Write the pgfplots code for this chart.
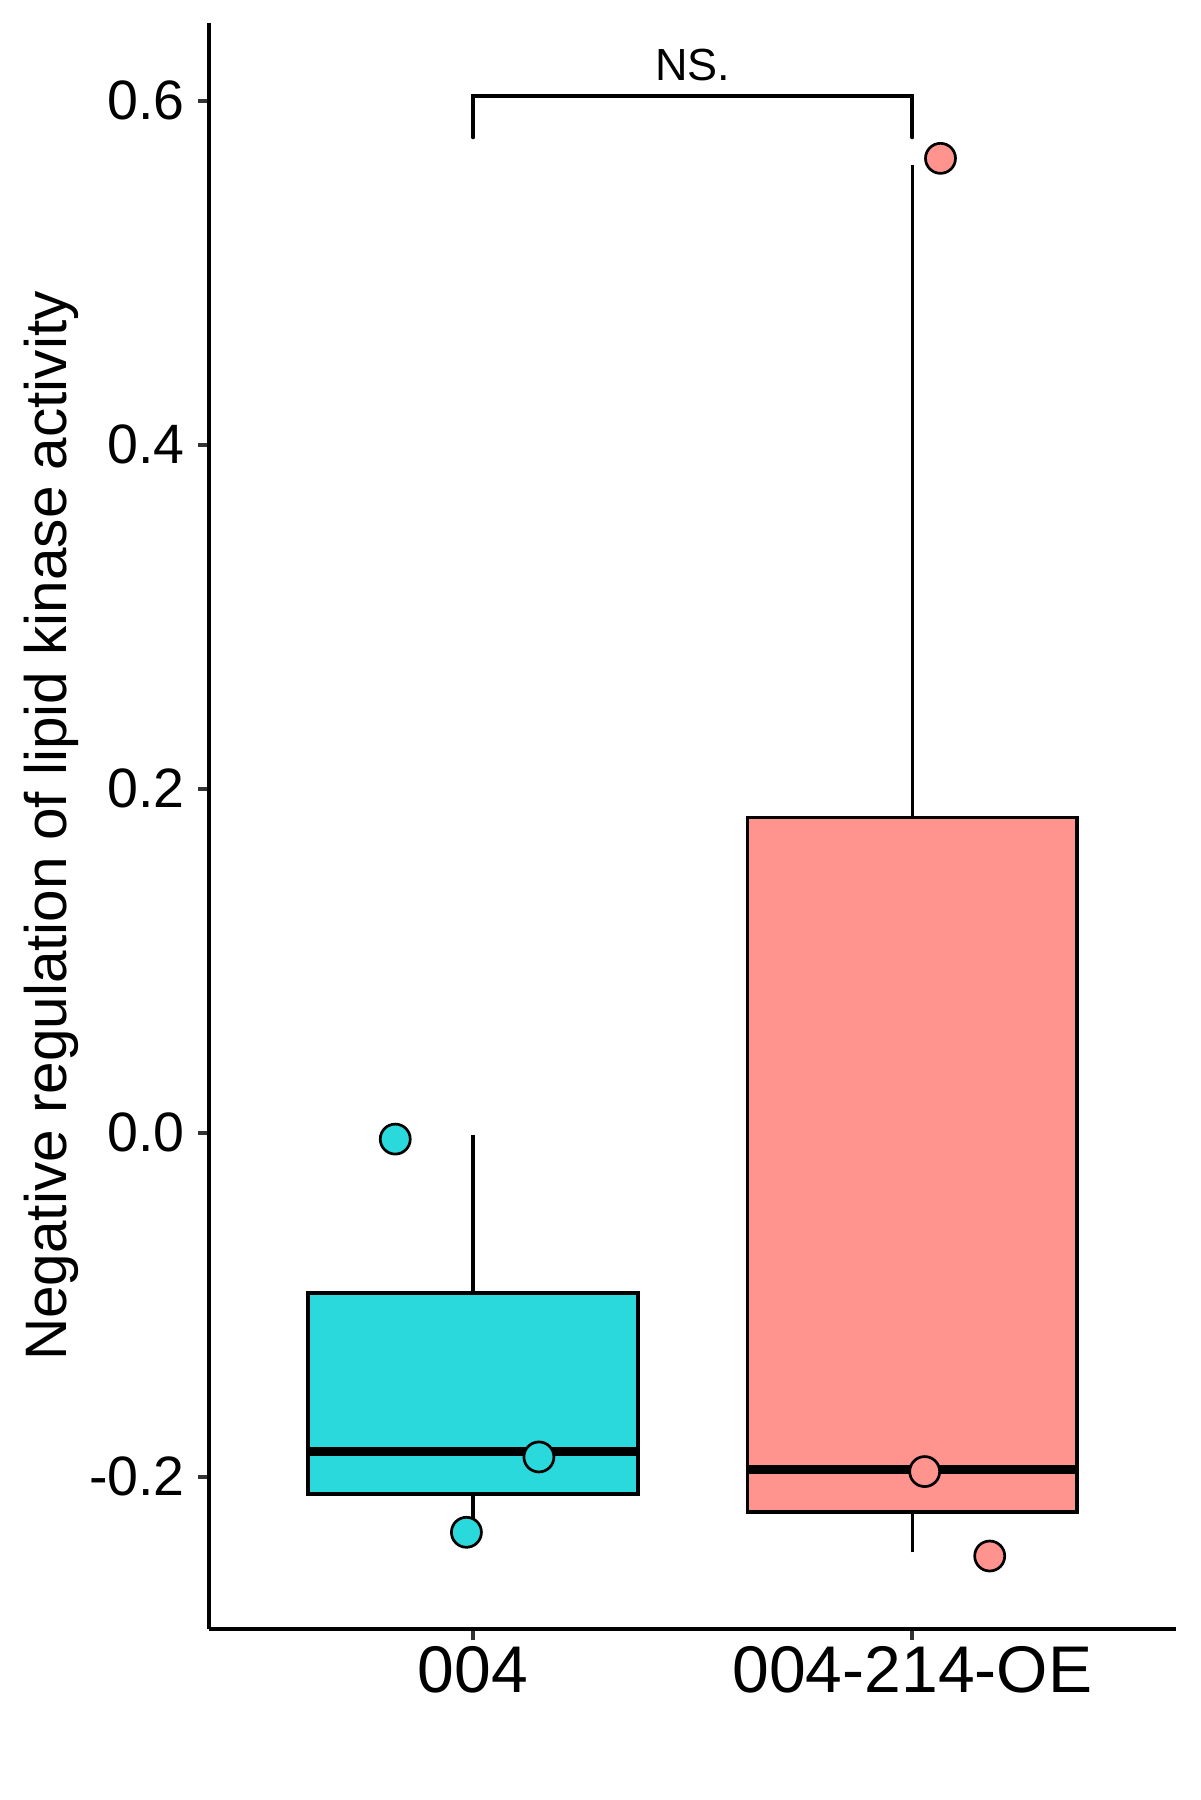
\documentclass[border=0pt]{standalone}
\usepackage{fontspec}
\setmainfont{Liberation Sans}
\usepackage{pgfplots}
\pgfplotsset{compat=1.18}
\definecolor{cy}{RGB}{41,217,220}
\definecolor{sa}{RGB}{255,148,143}
\definecolor{tk}{RGB}{51,51,51}
\begin{document}
\begin{tikzpicture}
\useasboundingbox (0,0) rectangle (400pt,600pt);
\begin{axis}[
 at={(69.8pt,56.9pt)}, anchor=south west, scale only axis,
 width=322.2pt, height=535.5pt,
 xmin=0.4, xmax=2.6, ymin=-0.2887, ymax=0.6453,
 axis x line*=bottom, axis y line*=left,
 axis line style={line width=1.33pt, -},
 xtick={1,2}, xticklabels={004,004-214-OE},
 ytick={-0.2,0,0.2,0.4,0.6}, yticklabels={-0.2,0.0,0.2,0.4,0.6},
 tick align=outside, major tick length=3.7pt,
 tick style={tk, line width=1.3pt},
 xticklabel style={font=\fontsize{22}{26}\selectfont, inner sep=0pt, anchor=north, yshift=-1.7pt},
 yticklabel style={font=\fontsize{18.5}{22}\selectfont, inner sep=0pt, anchor=east, xshift=-4.3pt},
 ylabel={Negative regulation of lipid kinase activity},
 ylabel style={font=\fontsize{19.5}{23}\selectfont, at={(axis description cs:-0.1474,0.5)}, anchor=base},
 clip=false,
]
% box 004
\addplot[black, line width=1.15pt] coordinates {(1,-0.2339) (1,-0.2102)};
\addplot[black, line width=1.15pt] coordinates {(1,-0.093) (1,-0.0013)};
\addplot[fill=cy, draw=black, line width=1.25pt] coordinates {(0.625,-0.2102) (1.375,-0.2102) (1.375,-0.093) (0.625,-0.093)} -- cycle;
\addplot[black, line width=3.1pt] coordinates {(0.625,-0.1855) (1.375,-0.1855)};
% box 004-214-OE
\addplot[black, line width=1.15pt] coordinates {(2,-0.244) (2,-0.2205)};
\addplot[black, line width=1.15pt] coordinates {(2,0.1832) (2,0.5626)};
\addplot[fill=sa, draw=black, line width=1.25pt] coordinates {(1.625,-0.2205) (2.375,-0.2205) (2.375,0.1832) (1.625,0.1832)} -- cycle;
\addplot[black, line width=3.1pt] coordinates {(1.625,-0.1957) (2.375,-0.1957)};
% points
\addplot[only marks, mark=*, mark size=5pt, mark options={fill=cy, draw=black, line width=0.9pt}] coordinates {(0.823,-0.0037) (1.150,-0.1885) (0.985,-0.2323)};
\addplot[only marks, mark=*, mark size=5pt, mark options={fill=sa, draw=black, line width=0.9pt}] coordinates {(2.064,0.5665) (2.028,-0.197) (2.176,-0.2461)};
% significance bracket
\addplot[black, line width=1.3pt, line cap=round] coordinates {(1,0.5787) (1,0.6027) (2,0.6027) (2,0.5787)};
\node[font=\fontsize{15}{18}\selectfont, anchor=base] at (axis cs:1.5,0.6027) [yshift=5.1pt] {NS.};
\end{axis}
\end{tikzpicture}
\end{document}
